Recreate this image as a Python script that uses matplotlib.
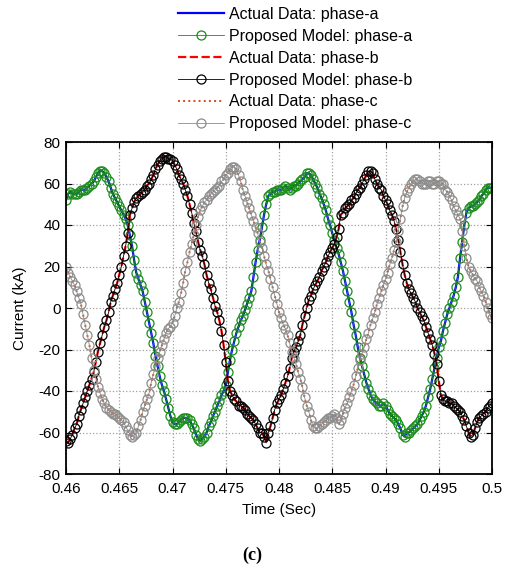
import matplotlib
matplotlib.use("Agg")
import matplotlib.pyplot as plt
import numpy as np

plt.rcParams["font.family"] = ["Liberation Sans", "DejaVu Sans"]
plt.rcParams["font.size"] = 11
plt.rcParams["axes.unicode_minus"] = False

# samples every 0.2 ms from 0.46 s to 0.50 s, currents in kA
T_START, T_END = 0.46, 0.50
N_SAMPLES = 201

i_a = [52, 55, 56, 55, 55, 55, 56, 57, 57, 57,
       58, 59, 60, 61, 63, 65, 66, 66, 65, 63,
       61, 58, 55, 53, 51, 49, 47, 45, 43, 40,
       35, 30, 23, 17, 14, 11, 8, 3, -2, -7,
       -12, -17, -23, -28, -33, -37, -40, -44, -48, -52,
       -55, -56, -56, -55, -54, -53, -53, -53, -54, -56,
       -58, -61, -63, -64, -63, -62, -60, -57, -55, -52,
       -50, -47, -45, -42, -40, -37, -31, -25, -20, -16,
       -12, -9, -6, -4, -1, 2, 5, 8, 15, 22,
       28, 33, 39, 45, 50, 54, 55, 56, 56, 57,
       57, 57, 58, 59, 58, 57, 58, 59, 59, 60,
       61, 62, 63, 65, 65, 64, 62, 60, 58, 55,
       53, 50, 47, 43, 40, 36, 33, 29, 26, 22,
       18, 13, 8, 3, -2, -8, -13, -19, -24, -28,
       -32, -36, -39, -42, -44, -45, -46, -47, -47, -46,
       -47, -49, -51, -52, -53, -54, -56, -58, -61, -62,
       -60, -60, -59, -58, -57, -56, -54, -52, -50, -47,
       -43, -39, -34, -29, -24, -19, -16, -11, -7, -3,
       0, 3, 6, 10, 15, 24, 32, 40, 46, 48,
       49, 49, 50, 51, 52, 54, 55, 57, 58, 58,
       58]

i_b = [-64, -65, -63, -61, -58, -56, -52, -49, -46, -43,
       -40, -37, -34, -31, -26, -21, -17, -13, -9, -6,
       -2, 3, 6, 9, 12, 16, 20, 25, 30, 36,
       45, 48, 51, 53, 54, 55, 56, 57, 59, 60,
       62, 64, 67, 69, 71, 72, 73, 73, 72, 72,
       71, 69, 67, 64, 62, 60, 57, 54, 50, 46,
       41, 37, 32, 28, 25, 21, 16, 12, 9, 5,
       1, -2, -6, -11, -18, -26, -35, -40, -42, -44,
       -45, -47, -47, -48, -49, -51, -52, -53, -54, -56,
       -58, -60, -60, -62, -65, -60, -57, -53, -49, -46,
       -44, -42, -39, -36, -33, -29, -24, -21, -19, -16,
       -13, -8, -4, 0, 4, 6, 9, 11, 13, 15,
       18, 20, 22, 25, 27, 29, 31, 34, 38, 45,
       46, 48, 49, 50, 52, 53, 55, 57, 58, 60,
       62, 64, 66, 66, 65, 62, 60, 58, 57, 54,
       52, 50, 47, 45, 42, 38, 33, 27, 21, 16,
       12, 9, 7, 5, 3, 0, -2, -4, -6, -9,
       -12, -15, -18, -22, -27, -35, -42, -44, -45, -45,
       -46, -46, -47, -48, -49, -50, -52, -54, -57, -60,
       -62, -61, -58, -55, -53, -52, -51, -50, -48, -47,
       -46]

i_c = [20, 17, 15, 13, 11, 8, 5, 2, -3, -8,
       -13, -18, -24, -30, -34, -38, -41, -44, -46, -48,
       -49, -50, -51, -51, -52, -53, -54, -55, -57, -59,
       -61, -62, -61, -60, -57, -54, -50, -47, -44, -41,
       -36, -32, -28, -24, -21, -18, -15, -12, -10, -9,
       -7, -4, 0, 3, 7, 12, 18, 22, 27, 31,
       35, 40, 44, 47, 49, 51, 52, 54, 55, 56,
       57, 58, 59, 61, 62, 64, 65, 67, 68, 68,
       67, 64, 61, 57, 54, 51, 48, 45, 42, 39,
       36, 32, 29, 25, 21, 18, 14, 10, 6, 2,
       -2, -5, -8, -10, -13, -17, -21, -24, -27, -31,
       -34, -38, -43, -47, -50, -54, -57, -58, -58, -57,
       -56, -55, -54, -53, -53, -52, -51, -53, -56, -54,
       -51, -48, -46, -43, -40, -37, -33, -29, -25, -22,
       -19, -15, -12, -8, -5, -2, 2, 5, 8, 11,
       14, 17, 21, 24, 28, 32, 37, 43, 49, 53,
       56, 58, 60, 61, 62, 62, 61, 60, 60, 60,
       61, 61, 60, 60, 61, 61, 60, 60, 57, 56,
       54, 52, 49, 47, 45, 43, 37, 30, 24, 20,
       18, 16, 14, 13, 10, 8, 6, 3, 0, -3,
       -5]

labels = ["Actual Data: phase-a", "Proposed Model: phase-a",
          "Actual Data: phase-b", "Proposed Model: phase-b",
          "Actual Data: phase-c", "Proposed Model: phase-c"]

x_ticks = [0.46, 0.465, 0.47, 0.475, 0.48, 0.485, 0.49, 0.495, 0.5]
x_labels = ["0.46", "0.465", "0.47", "0.475", "0.48", "0.485", "0.49", "0.495", "0.5"]
y_ticks = [-80, -60, -40, -20, 0, 20, 40, 60, 80]

t = np.linspace(T_START, T_END, N_SAMPLES)

fig = plt.figure(figsize=(5.08, 5.67), dpi=100)
ax = fig.add_axes([66 / 508, 1 - 474 / 567, 426 / 508, 332 / 567])

mk = dict(marker="o", markerfacecolor="none", markersize=6.5, markeredgewidth=0.9, lw=0.6)
ax.plot(t, i_a, color="#0000ff", lw=1.6, label=labels[0])
ax.plot(t, i_a, color="#1a8c1a", label=labels[1], **mk)
ax.plot(t, i_b, color="#ff0000", lw=1.6, ls="--", label=labels[2])
ax.plot(t, i_b, color="black", label=labels[3], **mk)
ax.plot(t, i_c, color="#c8501e", lw=1.4, ls=":", label=labels[4])
ax.plot(t, i_c, color="#8c8c8c", label=labels[5], **mk)

ax.set_xlim(0.46, 0.5)
ax.set_ylim(-80, 80)
ax.set_xticks(x_ticks)
ax.set_xticklabels(x_labels)
ax.set_yticks(y_ticks)
ax.tick_params(direction="in", top=True, right=True, length=4, labelsize=11)
ax.tick_params(axis="x", pad=5.5)
ax.tick_params(axis="y", pad=4)
ax.grid(True, color="#a0a0a0", ls=":", lw=0.9)
for s in ax.spines.values():
    s.set_linewidth(1.3)
ax.set_xlabel("Time (Sec)", labelpad=5)
ax.set_ylabel("Current (kA)", labelpad=8)

fig.legend(loc="upper left", bbox_to_anchor=(178 / 508, 1 - 7 / 567), frameon=False,
           handlelength=2.9, handletextpad=0.31, labelspacing=0.43, borderpad=0,
           borderaxespad=0, numpoints=1, fontsize=11.5)

fig.text(252 / 508, 1 - 555 / 567, "(c)", ha="center", va="center",
         family=["Liberation Serif", "DejaVu Serif"], weight="bold", fontsize=13)

fig.savefig("out.png", dpi=100)
